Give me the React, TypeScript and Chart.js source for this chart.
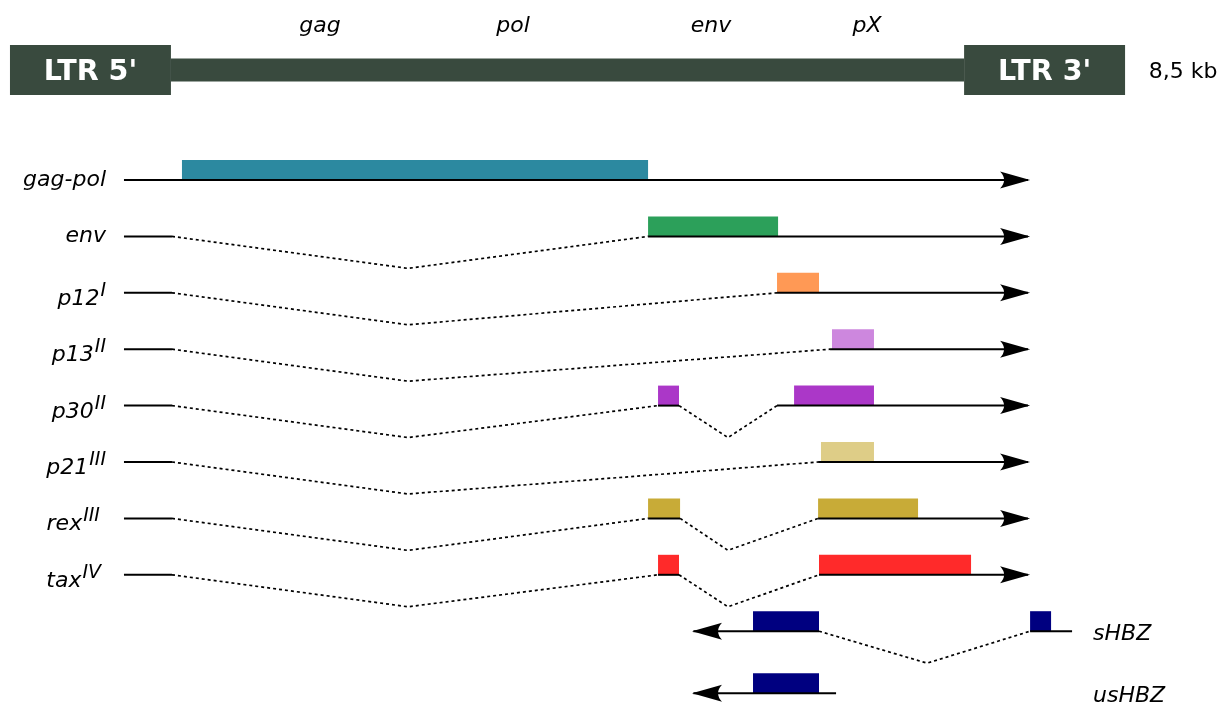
import React, { useEffect, useRef } from "react";
import { Chart, registerables } from "chart.js";

Chart.register(...registerables);

// ---------- frame: schematic genome coordinate (bp) on x, track rows on y ----------
const X_MIN = -76;
const X_MAX = 9277;
const Y_MIN = -3.1915;
const Y_MAX = 9.2553;

// ---------- genome map ----------
const genomeRow = -1.95;
const regionLabelRow = -2.63;
const ltr5 = [0, 1227];
const genomeBody = [1227, 7273];
const ltr3 = [7273, 8500];
const ltrLabels = ["LTR 5'", "LTR 3'"];
const regionNames = ["gag", "pol", "env", "pX"];
const regionCenters = [2363, 3835, 5344, 6533];
const genomeSizeLabel = "8,5 kb";
const genomeSizeLabelX = 8680;

// ---------- transcripts ----------
const transcriptNames = ["gag-pol", "env", "p12", "p13", "p30", "p21", "rex", "tax", "sHBZ", "usHBZ"];
const transcriptSups = ["", "", "I", "II", "II", "III", "III", "IV", "", ""];
const transcriptRows = [0, 1, 2, 3, 4, 5, 6, 7, 8, 9.1];
const transcriptStrands = [1, 1, 1, 1, 1, 1, 1, 1, -1, -1];
const transcriptColors = [
  "#2c89a0", "#2ca05a", "#ff9955", "#cd87de", "#ab37c8",
  "#decd87", "#c8ab37", "#ff2a2a", "#000080", "#000080",
];
const exonBlocks = [
  [[1311, 4864]],
  [[4864, 5855]],
  [[5847, 6167]],
  [[6266, 6586]],
  [[4940, 5100], [5977, 6586]],
  [[6182, 6586]],
  [[4864, 5108], [6160, 6922]],
  [[4940, 5100], [6167, 7326]],
  [[5664, 6167], [7776, 7936]],
  [[5664, 6167]],
];
const solidSegments = [
  [[869, 7760]],
  [[869, 1235], [4864, 7760]],
  [[869, 1235], [5847, 7760]],
  [[869, 1235], [6251, 7760]],
  [[869, 1235], [4940, 5100], [5847, 7760]],
  [[869, 1235], [6160, 7760]],
  [[869, 1235], [4864, 5108], [6160, 7760]],
  [[869, 1235], [4940, 5100], [6167, 7760]],
  [[5210, 6167], [7776, 8096]],
  [[5210, 6297]],
];
// [donor, apex, acceptor]
const introns = [
  [],
  [[1235, 3034, 4864]],
  [[1235, 3034, 5847]],
  [[1235, 3034, 6251]],
  [[1235, 3034, 4940], [5100, 5473, 5847]],
  [[1235, 3034, 6160]],
  [[1235, 3034, 4864], [5108, 5473, 6160]],
  [[1235, 3034, 4940], [5100, 5473, 6167]],
  [[6167, 6991, 7776]],
  [],
];
const intronDip = 0.567;
const arrowTips = [7776, 7776, 7776, 7776, 7776, 7776, 7776, 7776, 5199, 5199];
const nameLabelAnchor = [732, 732, 732, 732, 732, 732, 686, 694, 8256, 8256];

// ---------- styles ----------
const GENOME_COLOR = "#394a3e";
const FONT = '"DejaVu Sans", sans-serif';
const ROW_PX = 56.4;
const BAR_PX = 20;

function seg(x1: number, x2: number, y: number) {
  return [{ x: x1, y }, { x: x2, y }];
}

function lineDs(data: any[], color: string, width: number, order: number, dash: number[] = []) {
  return {
    type: "line",
    data,
    borderColor: color,
    backgroundColor: color,
    borderWidth: width,
    borderCapStyle: "butt",
    borderJoinStyle: "miter",
    borderDash: dash,
    pointRadius: 0,
    pointHoverRadius: 0,
    fill: false,
    tension: 0,
    order,
  };
}

function buildDatasets() {
  const ds: any[] = [];
  ds.push(lineDs(seg(genomeBody[0], genomeBody[1], genomeRow), GENOME_COLOR, 23, 1));
  ds.push(lineDs(seg(ltr5[0], ltr5[1], genomeRow), GENOME_COLOR, 50, 1));
  ds.push(lineDs(seg(ltr3[0], ltr3[1], genomeRow), GENOME_COLOR, 50, 1));
  const barOffset = BAR_PX / 2 / ROW_PX;
  transcriptRows.forEach((row, i) => {
    exonBlocks[i].forEach(([a, b]) => {
      ds.push(lineDs(seg(a, b, row - barOffset), transcriptColors[i], BAR_PX, 3));
    });
    solidSegments[i].forEach(([a, b]) => {
      ds.push(lineDs(seg(a, b, row), "#000000", 2, 1));
    });
    introns[i].forEach(([a, apex, b]) => {
      ds.push(
        lineDs(
          [{ x: a, y: row }, { x: apex, y: row + intronDip }, { x: b, y: row }],
          "#000000",
          1.7,
          2,
          [3, 3]
        )
      );
    });
  });
  return ds;
}

const overlayPlugin = {
  id: "overlay",
  afterDatasetsDraw(chart: any) {
    const { ctx } = chart;
    const xs = chart.scales.x;
    const ys = chart.scales.y;
    ctx.save();
    // arrowheads
    ctx.fillStyle = "#000";
    transcriptRows.forEach((row, i) => {
      const px = xs.getPixelForValue(arrowTips[i]);
      const py = ys.getPixelForValue(row);
      const d = transcriptStrands[i];
      ctx.beginPath();
      ctx.moveTo(px, py);
      ctx.lineTo(px - d * 30, py - 8.5);
      ctx.quadraticCurveTo(px - d * 22, py, px - d * 30, py + 8.5);
      ctx.closePath();
      ctx.fill();
    });

    // genome texts
    const gy = ys.getPixelForValue(genomeRow);
    ctx.textBaseline = "alphabetic";
    ctx.fillStyle = "#ffffff";
    ctx.font = `bold 28.5px ${FONT}`;
    ctx.textAlign = "center";
    [ltr5, ltr3].forEach((r, i) => {
      const cx = (xs.getPixelForValue(r[0]) + xs.getPixelForValue(r[1])) / 2;
      ctx.fillText(ltrLabels[i], cx, gy + 10);
    });
    ctx.fillStyle = "#000";
    ctx.font = `22px ${FONT}`;
    ctx.textAlign = "left";
    ctx.fillText(genomeSizeLabel, xs.getPixelForValue(genomeSizeLabelX), gy + 8);

    ctx.font = `italic 22px ${FONT}`;
    ctx.textAlign = "center";
    const ry = ys.getPixelForValue(regionLabelRow);
    regionNames.forEach((n, i) => {
      ctx.fillText(n, xs.getPixelForValue(regionCenters[i]), ry);
    });

    // transcript labels
    transcriptRows.forEach((row, i) => {
      const py = ys.getPixelForValue(row);
      const name = transcriptNames[i];
      const sup = transcriptSups[i];
      const anchor = xs.getPixelForValue(nameLabelAnchor[i]);
      ctx.textAlign = "left";
      if (transcriptStrands[i] < 0) {
        ctx.font = `italic 22px ${FONT}`;
        ctx.fillText(name, anchor, py + 8.5);
        return;
      }
      ctx.font = `italic 19px ${FONT}`;
      const ws = sup ? ctx.measureText(sup).width : 0;
      ctx.font = `italic 22px ${FONT}`;
      const wb = ctx.measureText(name).width;
      const base = sup ? py + 12 : py + 6;
      ctx.fillText(name, anchor - ws - wb - (sup ? 1 : 0), base);
      if (sup) {
        ctx.font = `italic 19px ${FONT}`;
        ctx.fillText(sup, anchor - ws, base - 9);
      }
    });
    ctx.restore();
  },
};

export default function App() {
  const ref = useRef<HTMLCanvasElement | null>(null);
  useEffect(() => {
    if (!ref.current) return;
    const chart = new Chart(ref.current, {
      type: "line",
      data: { datasets: buildDatasets() as any },
      options: {
        animation: false,
        responsive: false,
        maintainAspectRatio: false,
        events: [],
        layout: { padding: 0 },
        plugins: { legend: { display: false }, tooltip: { enabled: false } },
        scales: {
          x: { type: "linear", min: X_MIN, max: X_MAX, display: false },
          y: { type: "linear", min: Y_MIN, max: Y_MAX, reverse: true, display: false },
        },
      } as any,
      plugins: [overlayPlugin as any],
    });
    return () => chart.destroy();
  }, []);
  return (
    <div style={{ position: "absolute", left: 0, top: 0, width: 1227, height: 702, background: "#fff" }}>
      <canvas ref={ref} width={1227} height={702} style={{ display: "block", width: 1227, height: 702 }} />
    </div>
  );
}
